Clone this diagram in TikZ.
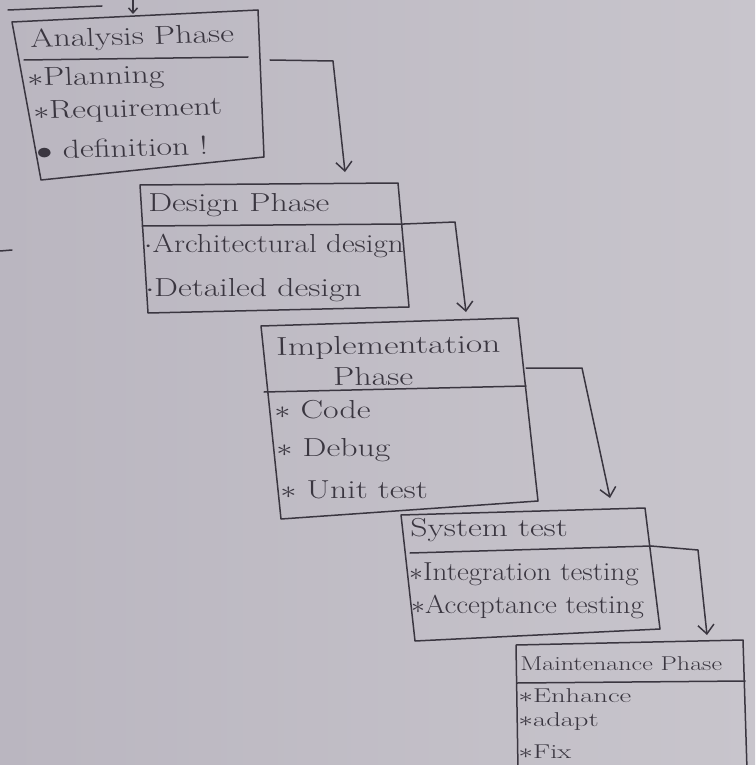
\documentclass[tikz,border=0pt]{standalone}
\usetikzlibrary{arrows.meta}
\definecolor{paper}{RGB}{193,189,198}
\definecolor{paperdark}{RGB}{186,182,192}
\definecolor{paperlight}{RGB}{200,197,204}
\definecolor{ink}{RGB}{58,54,64}
\begin{document}
\begin{tikzpicture}[x=1pt,y=-1pt,
  pencil/.style={draw=ink,line width=1.5pt,line join=round,line cap=round},
  flow/.style={pencil,-{Straight Barb[length=9pt,width=16pt,line width=1.5pt]}},
  hand/.style={anchor=west,inner sep=0pt,text=ink,xscale=1.3},
  big/.style={hand,font=\fontsize{26}{28}\selectfont},
  small/.style={hand,font=\fontsize{20}{22}\selectfont}]
\useasboundingbox (0,0) rectangle (755,765);
\shade[left color=paperdark,right color=paperlight] (0,0) rectangle (755,765);

% stray pencil marks at the top and left edge
\coordinate (top-a) at (8,10);
\coordinate (top-b) at (102,6);
\draw[pencil] (top-a) -- (top-b);
\coordinate (top-in) at (133,0);
\coordinate (top-tip) at (133,14);
\draw[pencil,-{Straight Barb[length=5pt,width=9pt]}] (top-in) -- (top-tip);
\coordinate (mark-a) at (0,251);
\coordinate (mark-b) at (12,250);
\draw[pencil] (mark-a) -- (mark-b);

% ---------- Analysis phase ----------
\coordinate (an-nw) at (12,22);
\coordinate (an-ne) at (258,10);
\coordinate (an-se) at (264,157);
\coordinate (an-sw) at (41,180);
\draw[pencil] (an-nw) -- (an-ne) -- (an-se) -- (an-sw) -- cycle;
\coordinate (an-l) at (24,60);
\coordinate (an-r) at (248,57);
\draw[pencil] (an-l) -- (an-r);
\node[big,rotate=2] (an-t) at (30,41) {Analysis Phase};
\node[big,rotate=2] (an-1) at (27,80) {$\ast$Planning};
\node[big,rotate=2] (an-2) at (33,113) {$\ast$Requirement};
\node[big,rotate=2] (an-3) at (36,150) {$\bullet$ definition !};

% ---------- Design phase ----------
\coordinate (de-nw) at (140,185);
\coordinate (de-ne) at (398,183);
\coordinate (de-se) at (409,307);
\coordinate (de-sw) at (148,313);
\draw[pencil] (de-nw) -- (de-ne) -- (de-se) -- (de-sw) -- cycle;
\coordinate (de-l) at (142,226);
\coordinate (de-r) at (404,224);
\draw[pencil] (de-l) -- (de-r);
\node[big] (de-t) at (148,205) {Design Phase};
\node[big,xscale=0.92] (de-1) at (144,246) {$\cdot$Architectural design};
\node[big] (de-2) at (145,290) {$\cdot$Detailed design};

% ---------- Implementation phase ----------
\coordinate (im-nw) at (261,326);
\coordinate (im-ne) at (518,318);
\coordinate (im-se) at (538,501);
\coordinate (im-sw) at (281,519);
\draw[pencil] (im-nw) -- (im-ne) -- (im-se) -- (im-sw) -- cycle;
\coordinate (im-l) at (264,392);
\coordinate (im-r) at (526,386);
\draw[pencil] (im-l) -- (im-r);
\node[big,rotate=1,xscale=1.05] (im-t) at (276,349) {Implementation};
\node[big,rotate=1] (im-t2) at (333,377) {Phase};
\node[big] (im-1) at (274,410) {$\ast$ Code};
\node[big] (im-2) at (276,450) {$\ast$ Debug};
\node[big] (im-3) at (280,490) {$\ast$ Unit test};

% ---------- System test ----------
\coordinate (st-nw) at (401,515);
\coordinate (st-ne) at (645,508);
\coordinate (st-se) at (660,629);
\coordinate (st-sw) at (415,641);
\draw[pencil] (st-nw) -- (st-ne) -- (st-se) -- (st-sw) -- cycle;
\coordinate (st-l) at (410,553);
\coordinate (st-r) at (651,546);
\draw[pencil] (st-l) -- (st-r);
\node[big] (st-t) at (410,530) {System test};
\node[big,xscale=0.86] (st-1) at (409,574) {$\ast$Integration testing};
\node[big,xscale=0.86] (st-2) at (411,607) {$\ast$Acceptance testing};

% ---------- Maintenance phase ----------
\coordinate (ma-nw) at (516,645);
\coordinate (ma-ne) at (743,640);
\coordinate (ma-se) at (747,770);
\coordinate (ma-sw) at (518,770);
\draw[pencil] (ma-sw) -- (ma-nw) -- (ma-ne) -- (ma-se);
\coordinate (ma-l) at (517,683);
\coordinate (ma-r) at (745,681);
\draw[pencil] (ma-l) -- (ma-r);
\node[small] (ma-t) at (520,664) {Maintenance Phase};
\node[small,xscale=1.1] (ma-1) at (518,696) {$\ast$Enhance};
\node[small,xscale=1.1] (ma-2) at (518,722) {$\ast$adapt};
\node[small,xscale=1.1] (ma-3) at (518,752) {$\ast$Fix};

% ---------- flow between phases ----------
\coordinate (f1-a) at (270,60);
\coordinate (f1-b) at (333,61);
\coordinate (f1-c) at (345,172);
\draw[flow] (f1-a) -- (f1-b) -- (f1-c);

\coordinate (f2-b) at (455,222);
\coordinate (f2-c) at (466,312);
\draw[flow] (de-r) -- (f2-b) -- (f2-c);

\coordinate (f3-a) at (526,368);
\coordinate (f3-b) at (582,368);
\coordinate (f3-c) at (610,498);
\draw[flow] (f3-a) -- (f3-b) -- (f3-c);

\coordinate (f4-b) at (698,550);
\coordinate (f4-c) at (707,635);
\draw[flow] (st-r) -- (f4-b) -- (f4-c);
\end{tikzpicture}
\end{document}
